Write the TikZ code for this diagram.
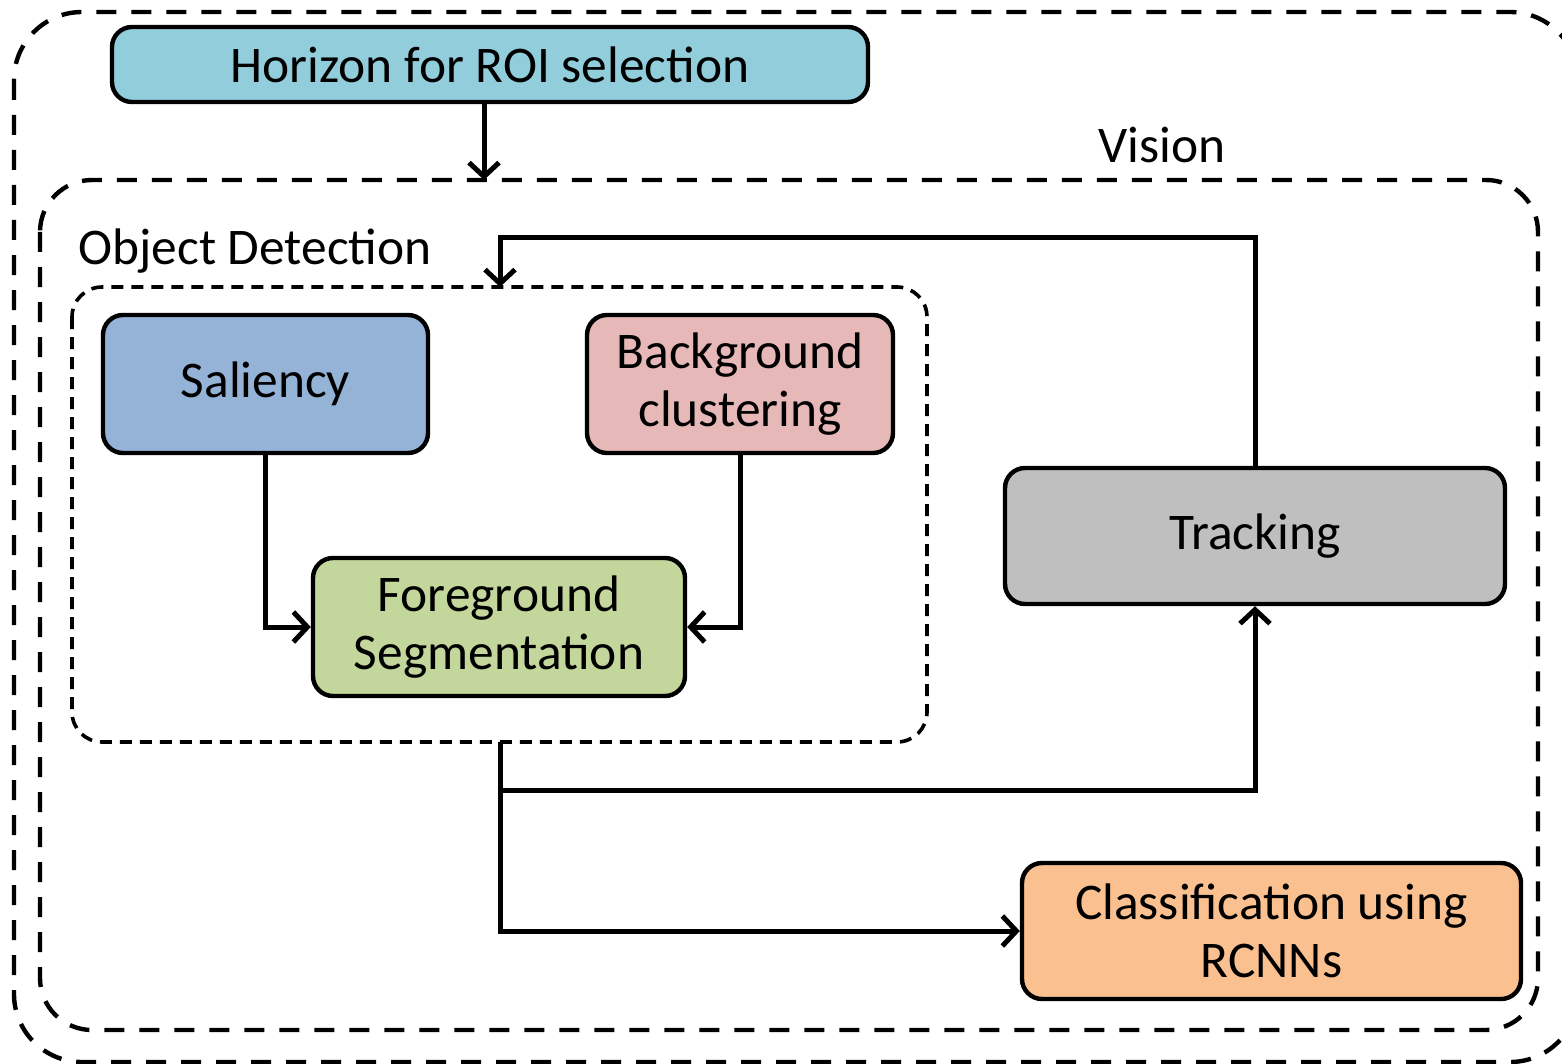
\documentclass[tikz,border=0pt]{standalone}
\usepackage{fontspec}
\setmainfont{Carlito}
\usetikzlibrary{arrows.meta}
\definecolor{cHor}{HTML}{92CDDC}
\definecolor{cSal}{HTML}{95B3D7}
\definecolor{cBg}{HTML}{E6B9B8}
\definecolor{cFs}{HTML}{C3D69B}
\definecolor{cTrk}{HTML}{BFBFBF}
\definecolor{cCls}{HTML}{FAC090}
\tikzset{
  procbox/.style={draw=black, line width=2.2pt, rounded corners=10pt, align=center,
    inner sep=0pt, font=\fontsize{25.7}{29}\selectfont},
  bigdash/.style={draw=black, line width=2.2pt, dash pattern=on 10pt off 7.5pt},
  smalldash/.style={draw=black, line width=1.8pt, dash pattern=on 6pt off 4pt},
  conn/.style={draw=black, line width=2.5pt, -{Straight Barb[length=7pt,width=15pt,line width=2.5pt]}},
  lbl/.style={inner sep=0pt, font=\fontsize{25.7}{29}\selectfont}
}
\begin{document}
\begin{tikzpicture}[x=0.5pt, y=-0.5pt]
\useasboundingbox (0,0) rectangle (1562,1064);
% containers
\draw[bigdash, rounded corners=34pt] (14,12) rectangle (1578,1062);
\draw[bigdash, rounded corners=26pt] (40,180) rectangle (1538,1030);
\draw[smalldash, rounded corners=15pt] (72,287) rectangle (927,742);
% labels
\node[lbl] (vislbl) at (1162,145) {Vision};
\node[lbl, anchor=west] (odlbl) at (78,251) {Object Detection};
% boxes
\node[procbox, fill=cHor, minimum width=378pt, minimum height=37.5pt] (hor) at (490,64.5) {Horizon for ROI selection};
\node[procbox, fill=cSal, minimum width=162.5pt, minimum height=69pt] (sal) at (265.5,384) {Saliency};
\node[procbox, fill=cBg, minimum width=153pt, minimum height=69pt] (bg) at (740,384) {Background\\clustering};
\node[procbox, fill=cFs, minimum width=186pt, minimum height=69pt] (fs) at (499,627) {Foreground\\Segmentation};
\node[procbox, fill=cTrk, minimum width=250pt, minimum height=68pt] (trk) at (1255,536) {Tracking};
\node[procbox, fill=cCls, minimum width=249.5pt, minimum height=68pt] (cls) at (1271.5,931) {Classification using\\RCNNs};
% coordinates
\coordinate (vtop) at (484,180);
\coordinate (odtop) at (500,287);
\coordinate (loop) at (500,238);
\coordinate (odbot) at (500,742);
\coordinate (br) at (500,790);
% connectors
\draw[conn] (hor.south -| vtop) -- (vtop);
\draw[conn] (sal.south) |- (fs.west);
\draw[conn] (bg.south) |- (fs.east);
\draw[conn] (trk.north) |- (loop) -- (odtop);
\draw[conn] (odbot) |- (cls.west);
\draw[conn] (br) -| (trk.south);
\end{tikzpicture}
\end{document}
